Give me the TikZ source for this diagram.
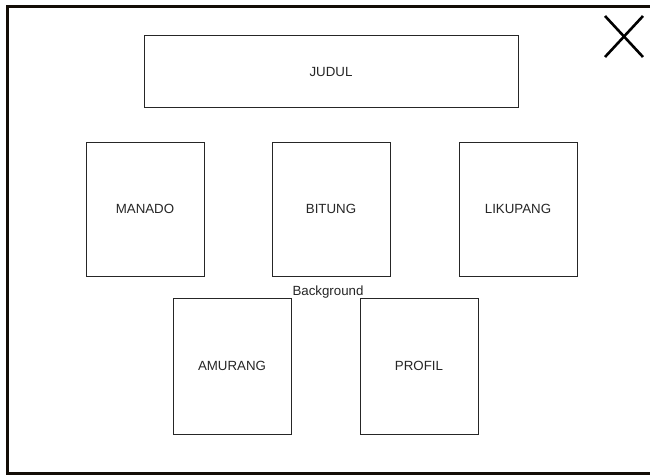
\documentclass[tikz,border=0pt]{standalone}
\usepackage{fontspec}
\setmainfont{Liberation Sans}
\begin{document}
\begin{tikzpicture}[x=1pt,y=-1pt,
  frame/.style={draw=black!90!brown, line width=3pt},
  cell/.style={draw=black!85, line width=1pt, fill=white, inner sep=0pt,
               font=\fontsize{13.3}{15}\selectfont, text=black!85},
  closemark/.style={draw=black, line width=2.6pt}]
  \useasboundingbox (0,0) rectangle (650,476);
  \fill[white] (0,0) rectangle (650,476);
  % outer window frame (right edge runs past the page)
  \draw[frame] (7.5,6.5) rectangle (665,473.5);
  % close mark
  \coordinate (xa) at (605,16);
  \coordinate (xb) at (643,57);
  \coordinate (xc) at (643,16);
  \coordinate (xd) at (605,57);
  \draw[closemark] (xa) -- (xb);
  \draw[closemark] (xc) -- (xd);
  % title and menu cells
  \node[cell, minimum width=374pt, minimum height=72pt] (judul) at (331,72) {JUDUL};
  \node[cell, minimum width=118pt, minimum height=134pt] (manado) at (145,209) {MANADO};
  \node[cell, minimum width=118pt, minimum height=134pt] (bitung) at (331,209) {BITUNG};
  \node[cell, minimum width=118pt, minimum height=134pt] (likupang) at (518,209) {LIKUPANG};
  \node[cell, minimum width=118pt, minimum height=136pt] (amurang) at (232,366) {AMURANG};
  \node[cell, minimum width=118pt, minimum height=136pt] (profil) at (419,366) {PROFIL};
  \node[font=\fontsize{13.3}{15}\selectfont, text=black!85, inner sep=0pt] (bg) at (328,292) {Background};
\end{tikzpicture}
\end{document}
